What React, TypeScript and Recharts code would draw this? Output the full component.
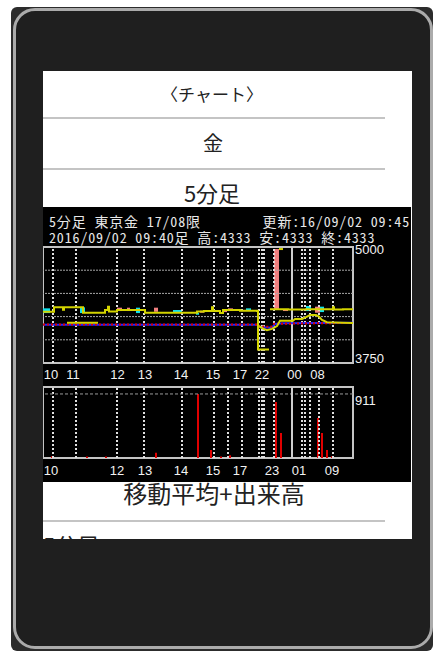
import {
  ComposedChart,
  BarChart,
  Bar,
  Line,
  XAxis,
  YAxis,
  ReferenceLine,
  ReferenceArea
} from 'recharts';

// ---- axes ----
const priceDomain: [number, number] = [3750, 5000];
const priceGrid = [4000, 4250, 4500, 4750];
const priceTicks = [3750, 5000];
const volumeDomain: [number, number] = [0, 1010];
const volumeTicks = [911];
const sessionBreak = 249; // day boundary (5-min bar index)
const timeGrid = [10, 33, 74, 101, 139, 171, 185, 199, 216, 219, 221, 231, 259, 262, 267, 276, 290];
const priceTimeTicks = [8, 30, 74.5, 102, 138, 170, 197, 219, 251.5, 274.5];
const priceTimeLabels = ['10', '11', '12', '13', '14', '15', '17', '22', '00', '08'];
const volTimeTicks = [8, 74, 102, 138, 170, 197, 229, 256, 289];
const volTimeLabels = ['10', '12', '13', '14', '15', '17', '23', '01', '09'];

// ---- price series (t = 5-min bar index) ----
const closeLine = [
  { t: 0, v: 4302 }, { t: 11, v: 4350 }, { t: 19, v: 4350 }, { t: 20, v: 4325 }, { t: 21, v: 4350 },
  { t: 40, v: 4292 }, { t: 62, v: 4321 }, { t: 65, v: 4357 }, { t: 66, v: 4305 }, { t: 74, v: 4321 },
  { t: 102, v: 4292 }, { t: 154, v: 4305 }, { t: 161, v: 4310 }, { t: 169, v: 4350 }, { t: 170, v: 4310 },
  { t: 177, v: 4288 }, { t: 180, v: 4321 }, { t: 197, v: 4312 }, { t: 214, v: 4310 }, { t: 215, v: 3895 },
  { t: 226, v: 3895 }, { t: 226.5, v: null }, { t: 227, v: 4328 }, { t: 245, v: 4326 }, { t: 263, v: 4330 },
  { t: 290, v: 4350 }, { t: 291, v: 4326 }, { t: 300, v: 4330 }, { t: 310, v: 4326 }
];
const highMark = [{ t: 236, v: 4978 }, { t: 240, v: 4978 }];
const maShort = [
  { t: 24, v: 4183 }, { t: 55, v: 4183 }, { t: 56, v: null },
  { t: 216, v: 4148 }, { t: 220, v: 4120 }, { t: 224, v: 4104 }, { t: 229, v: 4118 }, { t: 234, v: 4148 },
  { t: 237, v: 4205 }, { t: 250, v: 4205 }, { t: 252, v: 4223 }, { t: 259, v: 4223 }, { t: 263, v: 4245 },
  { t: 267, v: 4267 }, { t: 273, v: 4267 }, { t: 276, v: 4250 }, { t: 279, v: 4213 }, { t: 284, v: 4190 },
  { t: 300, v: 4183 }, { t: 310, v: 4180 }
];
const maMid = [
  { t: 0, v: 4162 }, { t: 214, v: 4162 }, { t: 217, v: 4135 }, { t: 229, v: 4130 }, { t: 232, v: 4170 },
  { t: 240, v: 4178 }, { t: 310, v: 4185 }
];
const maLong = [
  { t: 0, v: 4165 }, { t: 214, v: 4165 }, { t: 216, v: 4145 }, { t: 228, v: 4140 }, { t: 231, v: 4172 },
  { t: 310, v: 4182 }
];
// [start, end, low, high, up?]
const candles: [number, number, number, number, boolean][] = [
  [0, 7, 4288, 4339, false], [37, 42, 4288, 4350, false], [74, 79, 4310, 4346, true],
  [84, 87, 4310, 4346, true], [93, 97, 4288, 4346, false], [111, 115, 4302, 4346, true],
  [130, 139, 4292, 4321, false], [153, 156, 4270, 4292, false], [157, 161, 4292, 4313, true],
  [180, 184, 4299, 4321, true], [185, 190, 4310, 4339, true], [203, 208, 4310, 4339, false],
  [231, 236, 4321, 4978, true], [240, 245, 4310, 4328, true], [263, 268, 4310, 4364, false],
  [272, 277, 4292, 4357, true], [277, 281, 4299, 4357, false], [289, 290, 4310, 4330, false]
];

// ---- volume ----
const volumes = [
  { t: 9, v: 25 }, { t: 44, v: 20 }, { t: 63, v: 20 }, { t: 113, v: 75 }, { t: 155, v: 911 },
  { t: 168, v: 115 }, { t: 178, v: 20 }, { t: 187, v: 40 }, { t: 233, v: 795 }, { t: 238, v: 355 },
  { t: 275, v: 570 }, { t: 279, v: 355 }, { t: 284, v: 115 }, { t: 289, v: 25 }
];

const labelFont = "'Liberation Sans', Arial, sans-serif";
const monoJP = "'Noto Sans Mono CJK JP', 'Noto Sans CJK JP', monospace";
const sansJP = "'Noto Sans CJK JP', sans-serif";

const timeTick = (ticks: number[], labels: string[], dy: number) => (props: any) => {
  const { x, y, payload } = props;
  const i = ticks.indexOf(payload.value);
  return (
    <text x={x} y={y + dy} textAnchor="middle" fill="#f2f2f2" fontSize={13} fontFamily={labelFont}>
      {labels[i]}
    </text>
  );
};

const valueTick = (topValue: number) => (props: any) => {
  const { x, y, payload } = props;
  return (
    <text x={x} y={payload.value === topValue ? y + 7 : y} textAnchor="start" fill="#f2f2f2" fontSize={13} fontFamily={labelFont}>
      {payload.value}
    </text>
  );
};

function PriceChart() {
  return (
    <ComposedChart width={368} height={176} margin={{ top: 40, right: 0, bottom: 0, left: 0 }}>
      <XAxis dataKey="t" type="number" domain={[0, 310]} allowDataOverflow ticks={priceTimeTicks} interval={0}
        height={20} axisLine={false} tickLine={false} tickSize={0} tickMargin={0}
        tick={timeTick(priceTimeTicks, priceTimeLabels, 15.5)} />
      <YAxis orientation="right" type="number" domain={priceDomain} allowDataOverflow ticks={priceTicks} interval={0}
        width={58} axisLine={false} tickLine={false} tickSize={0} tickMargin={2} tick={valueTick(5000)} />
      {priceGrid.map((p) => (
        <ReferenceLine key={`h-${p}`} y={p} stroke="#a8a8a8" strokeWidth={1} strokeDasharray="2 1" />
      ))}
      {timeGrid.map((t) => (
        <ReferenceLine key={`v-${t}`} x={t} stroke="#e0e0e0" strokeWidth={2} strokeDasharray="2 2" />
      ))}
      <ReferenceLine x={sessionBreak} stroke="#cfcfcf" strokeWidth={2} />
      <ReferenceArea x1={0} x2={310} y1={3750} y2={5000} fill="none" fillOpacity={0} stroke="#c4c4c4" strokeWidth={2} />
      <Line data={maMid} dataKey="v" type="linear" stroke="#2424ff" strokeWidth={2} dot={false} isAnimationActive={false} />
      <Line data={maLong} dataKey="v" type="linear" stroke="#e00000" strokeWidth={2} strokeDasharray="2 2" dot={false} isAnimationActive={false} />
      <Line data={maShort} dataKey="v" type="linear" stroke="#d4d400" strokeWidth={2} dot={false} isAnimationActive={false} />
      <Line data={closeLine} dataKey="v" type="stepAfter" stroke="#d4d400" strokeWidth={2} dot={false} isAnimationActive={false} />
      <Line data={highMark} dataKey="v" type="linear" stroke="#d4d400" strokeWidth={2} dot={false} isAnimationActive={false} />
      {candles.map(([t0, t1, lo, hi, up], i) => (
        <ReferenceArea key={`c-${i}`} x1={t0} x2={t1} y1={lo} y2={hi}
          fill={up ? '#f28080' : '#10e0ec'} fillOpacity={1} stroke="none" />
      ))}
    </ComposedChart>
  );
}

function VolumeChart() {
  return (
    <BarChart width={368} height={98} data={volumes} margin={{ top: 7, right: 0, bottom: 0, left: 0 }}>
      <XAxis dataKey="t" type="number" domain={[0, 310]} allowDataOverflow ticks={volTimeTicks} interval={0}
        height={20} axisLine={false} tickLine={false} tickSize={0} tickMargin={0}
        tick={timeTick(volTimeTicks, volTimeLabels, 16.5)} />
      <YAxis orientation="right" type="number" domain={volumeDomain} allowDataOverflow ticks={volumeTicks} interval={0}
        width={58} axisLine={false} tickLine={false} tickSize={0} tickMargin={2} tick={(props: any) => (
          <text x={props.x} y={props.y + 11} textAnchor="start" fill="#f2f2f2" fontSize={13} fontFamily={labelFont}>
            {props.payload.value}
          </text>
        )} />
      {timeGrid.map((t) => (
        <ReferenceLine key={`v-${t}`} x={t} stroke="#e0e0e0" strokeWidth={2} strokeDasharray="2 2" />
      ))}
      <ReferenceLine y={911} stroke="#9a9a9a" strokeWidth={1} strokeDasharray="3 2" />
      <ReferenceLine x={sessionBreak} stroke="#cfcfcf" strokeWidth={2} />
      <ReferenceArea x1={0} x2={310} y1={0} y2={1010} fill="none" fillOpacity={0} stroke="#c4c4c4" strokeWidth={2} />
      <Bar dataKey="v" fill="#e00000" barSize={2} isAnimationActive={false} />
    </BarChart>
  );
}

export default function App() {
  return (
    <div style={{ position: 'absolute', left: 0, top: 0, width: 433, height: 652, background: '#fff', overflow: 'hidden' }}>
      {/* phone frame */}
      <div style={{ position: 'absolute', left: 11, top: 7, width: 422, height: 644, background: '#2c2c2c', borderRadius: 6 }} />
      <div style={{ position: 'absolute', left: 13, top: 8, width: 414, height: 635, border: '3px solid #ababab', borderRadius: 22, background: '#1f1f1f' }} />

      {/* list screen */}
      <div style={{ position: 'absolute', left: 43, top: 71, width: 369, height: 468, background: '#fff', overflow: 'hidden' }}>
        <div style={{ position: 'absolute', left: 0, top: 46, width: 342, height: 2, background: '#c4c4c4' }} />
        <div style={{ position: 'absolute', left: 0, top: 97, width: 342, height: 2, background: '#c4c4c4' }} />
        <div style={{ position: 'absolute', left: 0, top: 449, width: 342, height: 2, background: '#c4c4c4' }} />
        <svg width={369} height={468} style={{ position: 'absolute', left: 0, top: 0 }}>
          <text x={169} y={30} textAnchor="middle" fontSize={17} fontFamily={sansJP} fill="#222">〈チャート〉</text>
          <text x={170} y={80} textAnchor="middle" fontSize={20} fontFamily={sansJP} fill="#222">金</text>
          <text x={169} y={131} textAnchor="middle" fontSize={22} fontFamily={sansJP} fill="#222">5分足</text>
          <text x={171} y={432} textAnchor="middle" fontSize={24} fontFamily={sansJP} fill="#222">移動平均+出来高</text>
          <text x={0} y={482.5} textAnchor="start" fontSize={22} fontFamily={sansJP} fill="#222">5分足</text>
        </svg>
      </div>

      {/* chart panel */}
      <div style={{ position: 'absolute', left: 43, top: 207, width: 368, height: 275, background: '#000' }}>
        <svg width={368} height={40} style={{ position: 'absolute', left: 0, top: 0 }}>
          <text x={6} y={20} fontSize={14} letterSpacing={0.85} fontFamily={monoJP} fill="#e8e8e8">5分足 東京金 17/08限</text>
          <text x={367} y={20} textAnchor="end" fontSize={14} letterSpacing={0.85} fontFamily={monoJP} fill="#e8e8e8">更新:16/09/02 09:45</text>
          <text x={6} y={35.5} fontSize={14} letterSpacing={0.85} fontFamily={monoJP} fill="#e8e8e8">2016/09/02 09:40足 高:4333 安:4333 終:4333</text>
        </svg>
        <div style={{ position: 'absolute', left: 0, top: 0 }}>
          <PriceChart />
        </div>
        <div style={{ position: 'absolute', left: 0, top: 173 }}>
          <VolumeChart />
        </div>
      </div>
    </div>
  );
}
